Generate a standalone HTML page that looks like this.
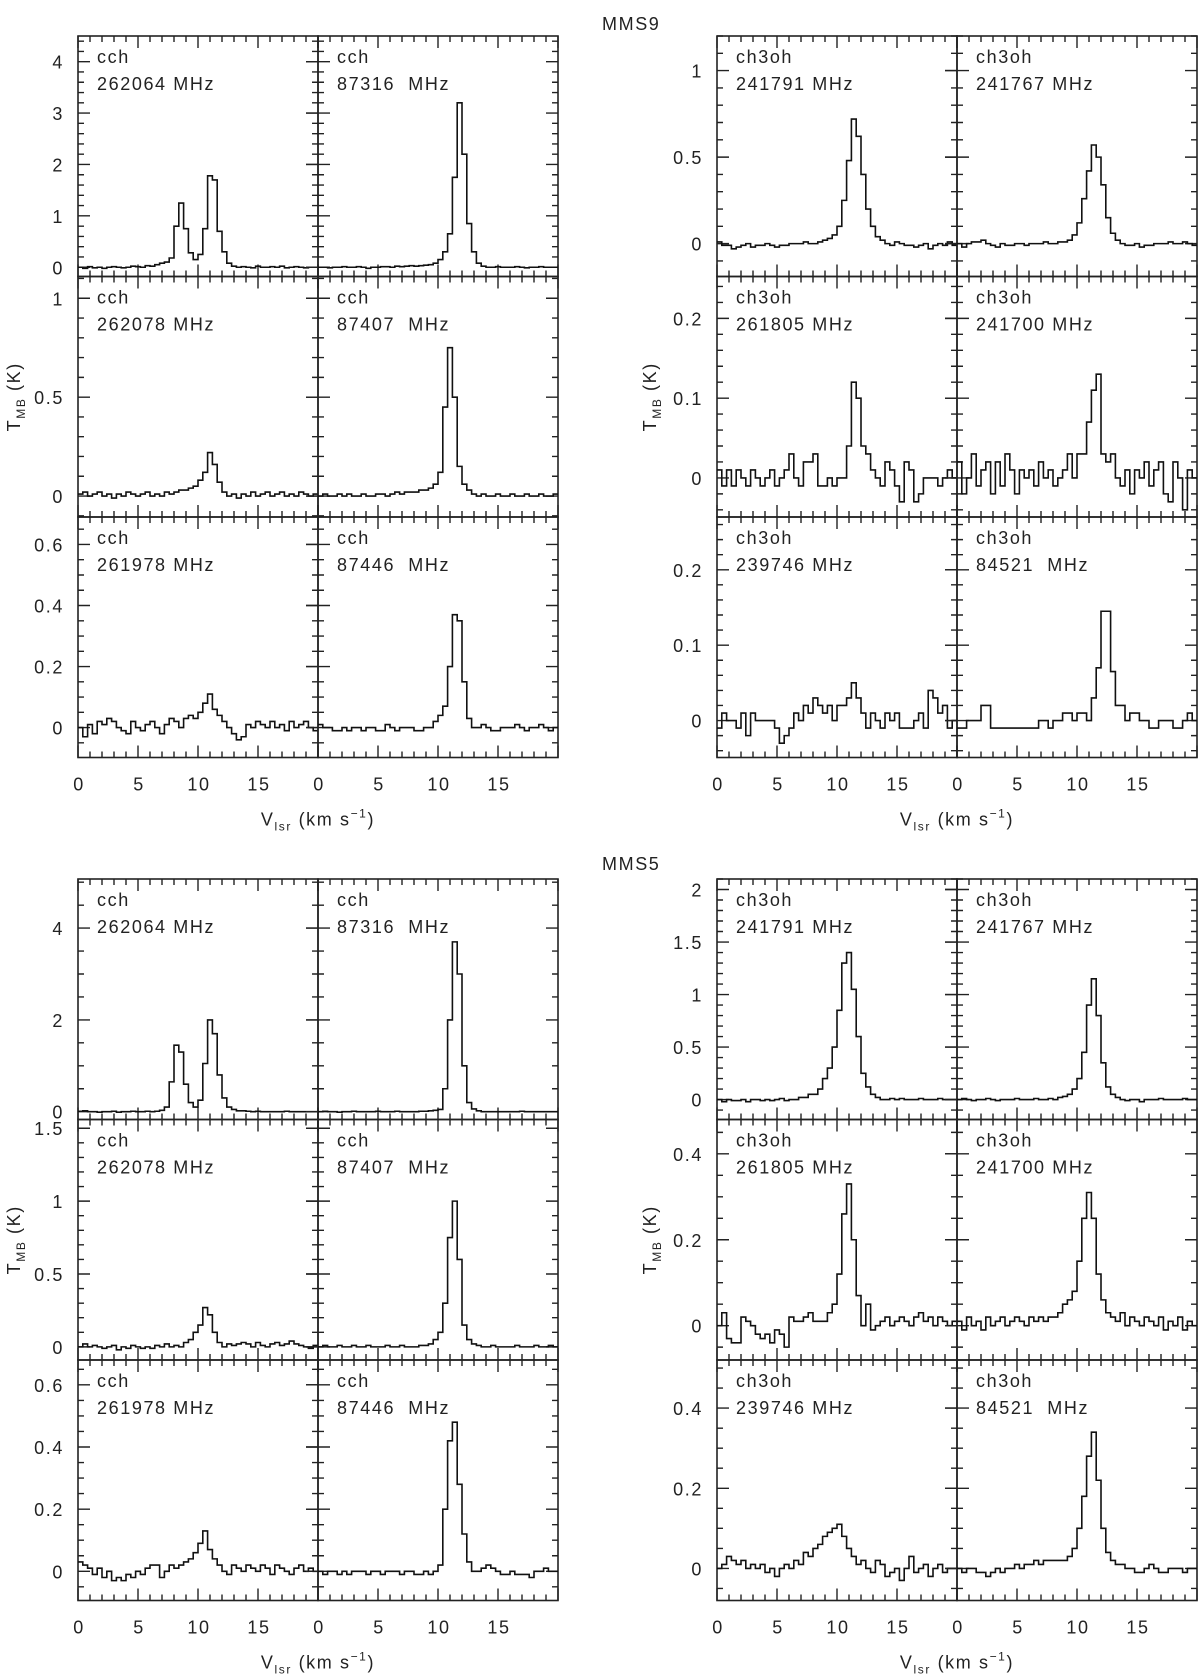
<!DOCTYPE html>
<html><head><meta charset="utf-8">
<style>
html,body{margin:0;padding:0;background:#fff;}
svg{display:block;font-family:"Liberation Sans",sans-serif;}
.t{font-size:18px;letter-spacing:1.6px;fill:#222;}
</style></head>
<body>
<svg id="fig" width="1200" height="1680" viewBox="0 0 1200 1680"></svg>
<script>
// ---- data: channel values (K), 0.4 km/s channels from 0 to 20 km/s ----
const velMin=0, velMax=20;
const mms9_cch_262064=[0.00,-0.02,0.01,-0.01,0.00,-0.02,0.00,0.01,0.00,-0.01,0.00,0.02,0.01,0.00,0.03,0.02,0.05,0.08,0.10,0.18,0.80,1.25,0.75,0.28,0.15,0.25,0.75,1.78,1.70,0.70,0.30,0.08,0.02,0.00,0.01,0.00,-0.01,0.02,0.00,0.00,0.01,0.00,0.02,-0.01,0.00,0.01,0.00,-0.01,0.00,0.00];
const mms9_cch_87316=[0.00,0.00,-0.01,0.00,0.00,0.01,0.00,0.00,0.01,0.00,-0.02,0.00,0.00,0.01,0.01,0.00,0.02,0.01,0.02,0.03,0.02,0.03,0.04,0.05,0.08,0.15,0.30,0.65,1.75,3.20,2.20,0.85,0.30,0.08,0.02,0.00,0.00,0.01,0.00,0.00,0.00,0.01,0.00,-0.01,0.00,0.00,0.01,0.00,0.00,0.00];
const mms9_cch_262078=[0.01,0.02,0.00,0.01,0.02,0.00,0.01,-0.01,0.01,0.00,0.02,0.01,0.00,0.01,0.02,0.00,0.01,0.00,0.02,0.01,0.02,0.03,0.03,0.04,0.05,0.08,0.12,0.22,0.16,0.07,0.02,0.00,0.01,-0.01,0.01,0.00,0.02,0.00,0.01,0.02,0.00,0.01,0.02,0.00,0.01,0.00,0.02,0.01,0.00,0.01];
const mms9_cch_87407=[0.00,0.01,0.00,0.00,0.01,0.00,0.01,0.00,0.00,0.01,0.00,0.00,0.01,0.01,0.00,0.01,0.02,0.01,0.02,0.02,0.02,0.03,0.03,0.04,0.06,0.12,0.45,0.75,0.50,0.15,0.06,0.03,0.01,0.00,0.01,0.00,0.00,0.01,0.00,0.00,0.01,0.00,0.00,0.01,0.00,0.00,0.01,0.00,0.00,0.01];
const mms9_cch_261978=[0.00,-0.03,0.01,-0.02,0.02,0.01,0.03,0.02,0.00,-0.01,-0.02,0.02,0.00,-0.01,0.01,0.02,0.00,-0.02,0.01,0.03,0.02,0.00,0.03,0.04,0.03,0.05,0.08,0.11,0.06,0.04,0.02,0.00,-0.02,-0.04,-0.03,0.01,0.00,0.02,0.01,0.00,0.02,0.00,0.01,-0.01,0.02,0.00,0.01,0.02,0.00,-0.01];
const mms9_cch_87446=[0.01,0.00,0.00,-0.01,-0.01,0.00,-0.01,0.00,0.00,-0.01,0.00,0.00,-0.01,-0.01,0.01,0.00,-0.01,0.00,0.00,0.00,-0.01,-0.01,0.00,0.00,0.02,0.04,0.07,0.20,0.37,0.35,0.15,0.03,0.00,0.00,0.01,0.00,-0.01,-0.01,0.00,0.00,0.00,0.01,0.00,-0.01,0.00,0.00,0.01,0.00,-0.01,0.00];
const mms9_ch3oh_241791=[0.01,-0.01,-0.01,-0.03,-0.02,-0.01,0.00,-0.02,-0.01,-0.01,0.00,-0.01,-0.02,-0.01,-0.01,0.00,0.00,0.00,0.01,0.00,0.00,0.01,0.02,0.03,0.05,0.10,0.25,0.48,0.72,0.62,0.40,0.20,0.10,0.04,0.02,0.00,-0.01,0.01,0.00,-0.01,-0.01,-0.02,-0.01,0.00,-0.03,-0.01,0.00,-0.01,0.01,-0.01];
const mms9_ch3oh_241767=[0.00,-0.02,0.00,0.01,0.01,0.02,0.00,-0.01,-0.02,0.00,-0.01,-0.01,0.00,0.00,-0.01,0.00,0.00,0.00,0.01,0.00,0.00,0.01,0.01,0.02,0.05,0.12,0.26,0.42,0.57,0.50,0.34,0.15,0.06,0.02,0.00,-0.01,-0.01,0.00,-0.02,-0.01,-0.01,0.00,0.00,0.00,0.01,0.00,0.00,0.01,0.00,-0.01];
const mms9_ch3oh_261805=[0.01,-0.01,0.01,-0.01,0.01,0.00,-0.01,0.01,0.00,-0.01,0.00,0.01,-0.01,0.00,0.01,0.03,0.00,-0.01,0.02,0.02,0.03,-0.01,-0.01,0.00,-0.01,0.00,0.00,0.04,0.12,0.10,0.04,0.03,0.01,0.00,-0.01,0.02,0.01,-0.01,-0.03,0.02,0.01,-0.03,-0.02,0.00,0.00,0.00,-0.01,0.00,0.01,0.00];
const mms9_ch3oh_241700=[0.02,-0.02,0.00,0.03,-0.01,0.01,0.02,-0.02,0.02,-0.01,0.03,0.01,-0.02,0.01,0.00,0.01,-0.01,0.02,0.00,0.01,-0.01,0.00,0.01,0.03,0.00,0.03,0.03,0.07,0.11,0.13,0.03,0.02,0.03,0.00,-0.01,0.01,-0.02,0.01,0.00,0.02,-0.01,0.01,0.02,-0.02,-0.03,0.02,0.00,-0.04,0.01,0.00];
const mms9_ch3oh_239746=[-0.01,0.01,0.00,0.00,-0.01,0.01,-0.02,0.01,0.00,0.00,0.00,0.00,-0.01,-0.03,-0.02,-0.01,0.01,0.00,0.02,0.01,0.03,0.02,0.01,0.02,0.00,0.02,0.02,0.03,0.05,0.03,0.01,-0.01,0.01,0.00,-0.01,0.01,0.00,0.01,-0.01,-0.01,-0.01,0.00,0.01,-0.01,0.04,0.03,0.01,0.02,-0.01,0.00];
const mms9_ch3oh_84521=[-0.01,-0.01,0.00,0.00,0.00,0.02,0.02,-0.01,-0.01,-0.01,-0.01,-0.01,-0.01,-0.01,-0.01,-0.01,-0.01,0.00,0.00,-0.01,0.00,0.00,0.01,0.01,0.00,0.01,0.01,0.00,0.03,0.07,0.145,0.145,0.065,0.02,0.02,0.00,0.01,0.01,0.00,0.00,-0.01,-0.01,0.00,0.00,0.00,-0.01,-0.01,0.00,0.01,0.00];
const mms5_cch_262064=[0.01,0.02,0.00,0.00,-0.01,0.00,0.00,0.01,-0.01,0.00,0.00,0.01,0.00,0.00,0.01,0.00,0.01,0.03,0.10,0.65,1.45,1.30,0.60,0.20,0.10,0.25,1.05,2.00,1.70,0.80,0.30,0.10,0.05,0.02,0.02,0.01,0.00,0.01,0.00,0.00,0.00,0.00,0.00,0.01,0.00,0.00,0.00,0.00,0.00,0.00];
const mms5_cch_87316=[0.00,0.01,0.00,0.00,-0.01,0.00,0.00,0.01,0.00,0.00,0.00,0.00,0.01,0.00,0.00,0.00,0.01,0.00,0.00,0.00,0.00,0.01,0.01,0.02,0.03,0.05,0.50,2.00,3.70,3.00,1.00,0.20,0.06,0.02,0.00,0.00,0.00,0.00,0.00,0.00,0.00,0.00,0.01,0.00,0.00,0.00,0.00,0.00,0.00,0.00];
const mms5_cch_262078=[0.00,0.02,0.00,0.01,0.00,-0.01,0.00,0.01,-0.02,0.00,-0.01,0.01,0.00,-0.01,0.00,-0.01,0.01,0.00,0.02,0.00,0.01,0.00,0.03,0.05,0.10,0.15,0.27,0.22,0.10,0.03,0.00,0.02,0.01,0.02,0.03,0.02,0.00,0.03,0.01,0.00,0.02,0.03,0.01,0.02,0.04,0.02,0.01,0.00,-0.01,0.01];
const mms5_cch_87407=[0.00,0.01,0.00,0.00,0.01,0.00,0.00,0.01,0.00,0.00,0.01,0.00,0.00,0.00,0.01,0.00,0.00,0.01,0.00,0.00,0.00,0.01,0.01,0.02,0.05,0.10,0.30,0.75,1.00,0.60,0.15,0.05,0.02,0.01,0.00,0.00,0.01,0.00,0.00,0.00,0.00,0.01,0.00,0.00,0.00,0.01,0.00,0.00,0.01,0.00];
const mms5_cch_261978=[0.03,0.02,0.01,-0.01,0.01,-0.02,0.00,-0.03,-0.02,-0.03,-0.01,-0.02,0.00,-0.01,0.01,0.02,0.02,-0.02,0.00,0.02,0.01,0.02,0.03,0.04,0.06,0.09,0.13,0.07,0.04,0.02,0.00,-0.01,0.02,0.01,0.00,0.02,0.01,0.00,0.02,0.01,-0.01,0.02,0.01,0.00,-0.01,0.01,0.02,0.00,0.01,0.00];
const mms5_cch_87446=[0.00,-0.01,0.00,0.00,-0.01,0.00,-0.01,0.00,0.00,0.00,-0.01,0.00,0.00,-0.01,0.00,0.00,0.00,-0.01,0.00,0.00,-0.01,-0.01,0.00,-0.01,0.00,0.02,0.20,0.42,0.48,0.28,0.12,0.03,0.00,0.00,0.01,0.02,0.01,0.00,-0.01,-0.01,0.00,-0.01,-0.01,-0.01,-0.02,0.00,0.00,0.01,0.00,0.00];
const mms5_ch3oh_241791=[0.00,-0.02,0.00,-0.01,-0.01,0.00,-0.02,0.00,0.00,-0.01,0.00,-0.01,0.00,0.01,-0.01,0.00,0.00,0.02,0.02,0.05,0.05,0.10,0.20,0.30,0.50,0.85,1.30,1.40,1.05,0.60,0.25,0.12,0.05,0.02,0.00,0.00,0.01,0.00,0.01,0.00,0.00,0.00,0.01,0.00,0.00,0.00,0.01,0.00,0.00,0.00];
const mms5_ch3oh_241767=[0.00,0.01,0.00,-0.01,0.00,0.00,0.01,0.00,-0.01,0.00,0.00,0.00,0.01,0.00,0.00,0.00,0.01,0.00,0.00,0.01,0.00,0.02,0.03,0.05,0.10,0.20,0.45,0.90,1.15,0.80,0.35,0.12,0.05,0.02,0.00,-0.01,0.00,0.00,-0.02,0.00,0.00,0.00,0.01,0.00,0.00,0.00,0.00,0.01,0.00,0.00];
const mms5_ch3oh_261805=[0.00,0.03,-0.03,-0.04,-0.04,0.02,0.01,0.00,-0.02,-0.03,-0.02,-0.04,-0.01,-0.02,-0.05,0.02,0.01,0.01,0.02,0.03,0.01,0.01,0.01,0.03,0.05,0.12,0.26,0.33,0.20,0.07,0.00,0.05,-0.01,0.00,0.01,0.02,0.00,0.01,0.02,0.01,0.00,0.02,0.03,0.01,0.02,0.00,0.02,0.01,0.00,0.01];
const mms5_ch3oh_241700=[0.01,-0.01,0.02,0.00,0.01,-0.01,0.02,0.00,0.01,0.02,0.00,0.01,0.02,0.01,0.00,0.02,0.01,0.02,0.01,0.02,0.02,0.03,0.05,0.06,0.08,0.15,0.25,0.31,0.25,0.12,0.06,0.03,0.02,0.01,0.03,0.00,0.02,0.01,0.00,0.02,0.01,0.00,0.02,-0.01,0.01,0.00,0.02,-0.01,0.01,0.00];
const mms5_ch3oh_239746=[0.00,0.01,0.03,0.02,0.01,0.02,0.00,0.01,0.00,0.01,-0.01,0.00,-0.02,0.00,0.01,0.00,0.02,0.01,0.04,0.03,0.05,0.06,0.08,0.09,0.10,0.11,0.08,0.05,0.03,0.01,0.02,0.00,-0.01,0.02,0.01,-0.02,-0.01,0.00,-0.03,0.00,0.03,-0.01,0.00,0.01,-0.02,0.00,0.01,-0.01,0.00,0.00];
const mms5_ch3oh_84521=[0.00,-0.01,0.00,0.00,-0.01,-0.01,-0.02,-0.01,0.00,-0.01,0.00,0.00,0.01,0.00,0.01,0.01,0.02,0.01,0.02,0.02,0.02,0.02,0.02,0.03,0.05,0.10,0.18,0.28,0.34,0.22,0.10,0.04,0.02,0.01,0.01,0.00,0.00,-0.01,-0.01,0.00,0.01,0.00,-0.01,-0.01,0.00,0.00,0.00,-0.01,0.00,0.00];
const xTickLabels=["0","5","10","15"];
const moleculeNames=["cch","ch3oh"];
const lineLabels9=["262064 MHz","87316  MHz","262078 MHz","87407  MHz","261978 MHz","87446  MHz","241791 MHz","241767 MHz","261805 MHz","241700 MHz","239746 MHz","84521  MHz"];

// ---- layout ----
const NS="http://www.w3.org/2000/svg";
const svg=document.getElementById('fig');
function mk(tag,attrs,parent){const e=document.createElementNS(NS,tag);for(const k in attrs)e.setAttribute(k,attrs[k]);(parent||svg).appendChild(e);return e;}
const W=240;
const groups=[
 {top:36,title:"MMS9",titleY:23,
  rows:[[-0.18,4.5,1,0.2,[0,1,2,3,4]],[-0.106,1.11,0.5,0.1,[0,0.5,1]],[-0.098,0.69,0.2,0.05,[0,0.2,0.4,0.6]]],
  rrows:[[-0.19,1.2,0.5,0.1,[0,0.5,1]],[-0.049,0.2525,0.1,0.02,[0,0.1,0.2]],[-0.049,0.27,0.1,0.02,[0,0.1,0.2]]],
  left:[[mms9_cch_262064,mms9_cch_87316],[mms9_cch_262078,mms9_cch_87407],[mms9_cch_261978,mms9_cch_87446]],
  right:[[mms9_ch3oh_241791,mms9_ch3oh_241767],[mms9_ch3oh_261805,mms9_ch3oh_241700],[mms9_ch3oh_239746,mms9_ch3oh_84521]]},
 {top:879,title:"MMS5",titleY:863,
  rows:[[-0.17,5.07,2,0.5,[0,2,4]],[-0.09,1.56,0.5,0.1,[0,0.5,1,1.5]],[-0.094,0.68,0.2,0.05,[0,0.2,0.4,0.6]]],
  rrows:[[-0.19,2.1,0.5,0.1,[0,0.5,1,1.5,2]],[-0.08,0.48,0.2,0.05,[0,0.2,0.4]],[-0.08,0.52,0.2,0.05,[0,0.2,0.4]]],
  left:[[mms5_cch_262064,mms5_cch_87316],[mms5_cch_262078,mms5_cch_87407],[mms5_cch_261978,mms5_cch_87446]],
  right:[[mms5_ch3oh_241791,mms5_ch3oh_241767],[mms5_ch3oh_261805,mms5_ch3oh_241700],[mms5_ch3oh_239746,mms5_ch3oh_84521]]}
];
const RH=240.5;
const blocks=[{x0:78,key:'left',rk:'rows',mol:0,lab:0},{x0:717,key:'right',rk:'rrows',mol:1,lab:6}];
const fmt=v=>String(Math.round(v*1000)/1000);

groups.forEach((g,gi)=>{
  const tt=mk('text',{x:602,y:g.titleY+7,class:'t'});tt.textContent=g.title;
  
  
  blocks.forEach((b,bi)=>{
    const bg=mk('g',{});
    
    
    g[b.rk].forEach((r,ri)=>{
      const [ymin,ymax,maj,mn,labs]=r;
      const top=g.top+ri*RH, bot=top+RH;
      const yS=v=>bot-(v-ymin)/(ymax-ymin)*RH;
      for(let c=0;c<2;c++){
        const x0=b.x0+c*W;
        const xS=v=>x0+(v-velMin)/(velMax-velMin)*W;
        const pg=mk('g',{},bg);
        
        
        // frame
        const fr=mk('rect',{x:x0,y:top,width:W,height:RH,fill:'none',stroke:'#222','stroke-width':1.6},pg);
        
        
        // x ticks
        let d='';
        for(let v=0;v<=velMax;v+=1){const x=xS(v);const L=(v%5===0)?12:6;d+=`M${x} ${bot}v${-L}M${x} ${top}v${L}`;}
        // y ticks
        const k0=Math.ceil(ymin/mn-1e-6),k1=Math.floor(ymax/mn+1e-6);
        for(let k=k0;k<=k1;k++){const v=k*mn;const y=yS(v);const isMaj=Math.abs(v/maj-Math.round(v/maj))<1e-6;const L=isMaj?12:6;
          d+=`M${x0} ${y}h${L}M${x0+W} ${y}h${-L}`; if(c===1&&isMaj) d+=`M${x0} ${y}h${-L}`;}
        const tk=mk('path',{d:d,stroke:'#222','stroke-width':1.4,fill:'none'},pg);
        
        
        // spectrum
        const data=g[b.key][ri][c];
        const dv=(velMax-velMin)/data.length;
        let p=`M${xS(0)} ${yS(data[0])}`;
        for(let i=0;i<data.length;i++){p+=`V${yS(data[i])}H${xS((i+1)*dv)}`;}
        const sp=mk('path',{d:p,stroke:'#111','stroke-width':1.6,fill:'none'},pg);
        
        
        // labels
        const t1=mk('text',{x:x0+19,y:top+27,class:'t'},pg);t1.textContent=moleculeNames[b.mol];
        
        
        const t2=mk('text',{x:x0+19,y:top+54,class:'t','xml:space':'preserve'},pg);t2.textContent=lineLabels9[b.lab+ri*2+c];
        t2.style.whiteSpace='pre';
        
        
        // y tick labels
        if(c===0){labs.forEach(v=>{const yl=mk('text',{x:x0-14,y:yS(v)+7,class:'t','text-anchor':'end'},pg);yl.textContent=fmt(v);
          
          });}
        // x tick labels
        if(ri===2){xTickLabels.forEach(s=>{const xl=mk('text',{x:xS(+s)+1,y:bot+33,class:'t','text-anchor':'middle'},pg);xl.textContent=s;
          
          });}
      }
    });
    // y-axis title
    const ycx=bi?650:14, ycy=g.top+RH*1.5;
    const yt=mk('text',{transform:`translate(${ycx+6},${ycy}) rotate(-90)`,class:'t','text-anchor':'middle'},bg);
    yt.innerHTML='T<tspan font-size="12" dy="5">MB</tspan><tspan dy="-5"> (K)</tspan>';
    
    
    // x-axis title
    const xt=mk('text',{x:b.x0+W,y:g.top+3*RH+68,class:'t','text-anchor':'middle'},bg);
    xt.innerHTML='V<tspan font-size="12" dy="5">lsr</tspan><tspan dy="-5"> (km s</tspan><tspan font-size="12" dy="-8">−1</tspan><tspan dy="8">)</tspan>';
    
    
  });
});
</script>
</body></html>
